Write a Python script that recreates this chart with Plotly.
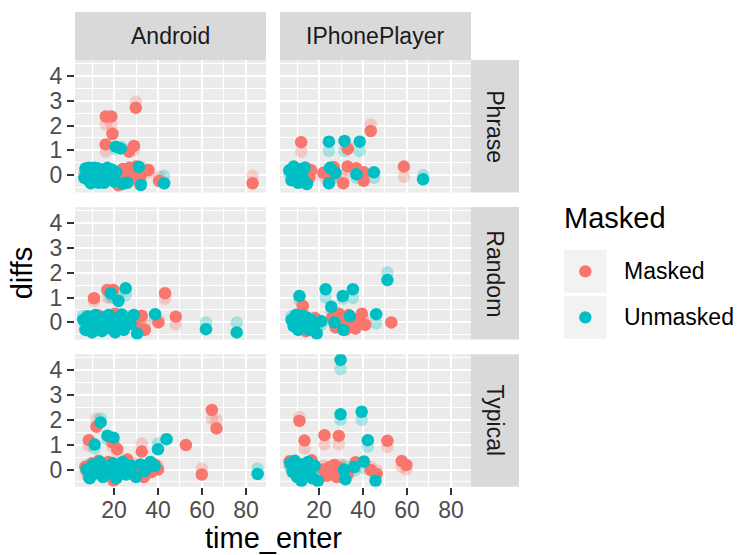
import plotly.graph_objects as go

# ---------------- data ----------------
devices = ["Android", "IPhonePlayer"]
tasks = ["Phrase", "Random", "Typical"]
groups = ["Masked", "Unmasked"]
group_colors = {"Masked": "#F8766D", "Unmasked": "#00BFC4"}
x_ticks = [20, 40, 60, 80]
y_ticks = [0, 1, 2, 3, 4]

# Android / Phrase
and_phr_m_x = [29.9, 16.3, 18.8, 19.3, 16.2, 29.1, 26.8, 35.7, 40.5, 83.0, 21, 23, 25, 27, 28, 30, 31, 33, 24, 22, 13, 11, 26, 29, 19, 32]
and_phr_m_y = [2.71, 2.36, 2.36, 1.66, 1.24, 1.18, 0.95, 0.21, -0.23, -0.32, -0.25, 0.12, -0.15, 0.3, 0.02, 0.35, -0.2, 0.15, 0.25, -0.4, -0.08, 0.06, -0.08, 0.2, 0.0, -0.02]
and_phr_m_j = [2.95, 2.04, 2.04, 1.70, 0.95, 1.0, 1.05, 0.12, -0.05, -0.02, -0.1, 0.2, 0.0, 0.15, -0.1, 0.25, -0.35, 0.3, 0.1, -0.25, 0.05, -0.1, 0.1, 0.05, 0.15, -0.15]
and_phr_u_x = [20.8, 23, 7, 8, 9, 10, 11, 12, 13, 14, 15, 16, 17, 18, 19, 20, 8.5, 12.5, 15.5, 10.5, 21, 24, 32.2, 31.3, 42.8, 26, 6.5, 9.5]
and_phr_u_y = [1.15, 1.08, 0.27, -0.17, 0.13, -0.25, 0.3, 0.04, -0.3, 0.23, 0.08, -0.2, 0.3, -0.06, 0.23, -0.25, 0.3, 0.28, -0.3, 0.04, 0.13, -0.34, -0.39, 0.34, -0.32, -0.3, -0.1, -0.32]
and_phr_u_j = [1.05, 1.15, 0.1, 0.0, 0.28, -0.1, 0.15, -0.1, -0.15, 0.05, 0.22, -0.05, 0.15, 0.1, 0.08, -0.1, 0.18, 0.12, -0.15, -0.1, 0.0, -0.2, -0.25, 0.2, -0.03, -0.15, 0.05, -0.2]

# IPhonePlayer / Phrase
iph_phr_m_x = [11.9, 33.1, 43.5, 58.6, 26.7, 31, 33, 37, 40.4, 40.3, 26.5, 14, 15.5, 16.5, 13.5, 22]
iph_phr_m_y = [1.33, 1.06, 1.78, 0.35, 0.33, -0.32, 0.35, 0.28, 0.12, -0.22, 0.04, 0.3, -0.1, 0.2, -0.3, 0.1]
iph_phr_m_j = [0.95, 1.15, 2.04, -0.06, 0.2, -0.15, 0.2, 0.15, 0.0, -0.05, -0.1, 0.15, 0.05, 0.05, -0.15, -0.05]
iph_phr_u_x = [24.5, 31.6, 38.5, 67.3, 24.5, 37, 45, 6.5, 7.5, 8.5, 9.5, 10.5, 11.5, 12.5, 13.5, 14.5, 9, 11, 25, 27.5]
iph_phr_u_y = [1.35, 1.38, 1.35, -0.16, -0.32, 0.04, 0.12, 0.2, -0.2, 0.35, 0.0, -0.3, 0.25, -0.1, 0.3, -0.35, 0.15, -0.15, 0.3, 0.1]
iph_phr_u_j = [0.98, 0.98, 0.98, 0.0, -0.15, -0.1, -0.1, 0.05, -0.05, 0.2, 0.15, -0.15, 0.1, 0.05, 0.15, -0.2, 0.3, 0.0, 0.15, -0.05]

# Android / Random
and_ran_m_x = [10.9, 17, 19.7, 43.2, 48.1, 40.2, 32.6, 20.5, 32.2, 25.3, 10, 11, 13, 20, 28, 30, 8, 15, 23, 34]
and_ran_m_y = [0.97, 1.3, 1.3, 1.17, 0.23, 0.0, 0.27, 0.35, -0.3, -0.07, 0.14, -0.1, 0.28, -0.15, 0.14, -0.15, -0.2, 0.05, 0.2, -0.3]
and_ran_m_j = [0.85, 1.0, 1.0, 0.95, -0.08, 0.1, 0.15, 0.2, -0.15, 0.05, 0.0, 0.05, 0.1, 0.0, 0.0, 0.0, -0.05, 0.2, 0.05, -0.1]
and_ran_u_x = [18.5, 25.3, 22, 38.7, 61.8, 75.8, 6, 7, 8, 9, 10, 11.5, 12.5, 13.5, 14.5, 15.5, 16.5, 17.5, 18.5, 19.5, 20.5, 21.5, 22.5, 23.5, 24.5, 26, 27.5, 29, 30.5, 17]
and_ran_u_y = [1.17, 1.37, 0.86, 0.33, -0.27, -0.4, 0.1, -0.3, 0.25, -0.1, -0.4, 0.3, -0.2, 0.05, -0.35, 0.2, -0.1, 0.3, -0.25, 0.1, -0.4, 0.15, -0.15, 0.32, -0.3, 0.1, -0.05, 0.3, -0.45, 0.0]
and_ran_u_j = [1.0, 1.09, 0.95, 0.15, 0.0, 0.0, 0.25, -0.15, 0.1, 0.05, -0.25, 0.15, -0.05, 0.2, -0.2, 0.05, 0.05, 0.15, -0.1, 0.25, -0.25, 0.0, 0.0, 0.17, -0.15, 0.25, 0.1, 0.15, -0.3, 0.15]

# IPhonePlayer / Random
iph_ran_m_x = [12.6, 52.9, 18.1, 26, 27.5, 29, 30.5, 32, 33.5, 35, 36.5, 38, 39.5, 41, 10, 14, 8.5]
iph_ran_m_y = [0.66, 0.0, 0.18, 0.2, -0.2, 0.35, -0.05, -0.3, 0.3, 0.05, -0.25, 0.15, 0.35, -0.1, -0.2, -0.35, 0.1]
iph_ran_m_j = [0.5, 0.0, 0.05, 0.05, -0.05, 0.2, 0.1, -0.15, 0.15, -0.1, -0.1, 0.0, 0.2, 0.05, -0.05, -0.2, -0.05]
iph_ran_u_x = [51.1, 11.1, 23, 30.8, 35.4, 25.6, 46, 7.5, 8.5, 9.5, 10.5, 11.5, 12.5, 13.5, 14.5, 15.5, 16.5, 17.5, 19, 21, 27, 31, 34]
iph_ran_u_y = [1.7, 1.06, 1.33, 1.06, 1.33, 0.63, 0.33, 0.1, -0.15, 0.3, -0.3, 0.05, 0.28, -0.1, 0.2, -0.3, 0.1, -0.2, -0.45, 0.05, 0.0, -0.3, 0.25]
iph_ran_u_j = [2.0, 0.9, 1.0, 0.95, 0.98, 0.5, -0.04, 0.25, 0.0, 0.15, -0.15, 0.2, 0.13, 0.05, 0.05, -0.15, -0.05, -0.05, -0.3, -0.1, 0.15, -0.15, 0.1]

# Android / Typical
and_typ_m_x = [64.5, 66.6, 12, 8.6, 19.3, 21.5, 32.6, 52.7, 59.9, 26.1, 33.6, 19.8, 40, 7, 8.5, 10, 11.5, 13, 14.5, 16, 17.5, 22, 24, 27.5, 29, 31, 35, 37, 38.5]
and_typ_m_y = [2.39, 1.65, 1.72, 1.18, 1.09, 0.82, 0.72, 0.98, -0.2, 0.4, -0.3, -0.44, 0.0, 0.1, -0.3, 0.25, -0.1, 0.35, 0.0, -0.25, 0.3, -0.05, 0.2, -0.15, 0.1, -0.25, 0.15, -0.1, 0.2]
and_typ_m_j = [2.03, 2.0, 2.04, 0.95, 0.9, 0.65, 1.04, 0.98, 0.04, 0.25, -0.15, -0.3, 0.15, -0.05, -0.15, 0.1, 0.05, 0.2, 0.15, -0.1, 0.15, 0.1, 0.05, 0.0, 0.25, -0.1, 0.0, 0.05, 0.05]
and_typ_u_x = [13.9, 11.2, 17, 19.8, 40, 43.9, 85.3, 38.5, 7.5, 9, 10.5, 12, 13.5, 15, 16.5, 18, 19.5, 21, 22.5, 24, 25.5, 28, 30, 32, 34, 36.5]
and_typ_u_y = [1.89, 1.0, 1.36, 1.28, 0.81, 1.22, -0.18, 0.14, 0.0, -0.35, 0.2, -0.15, 0.3, -0.3, 0.1, -0.1, 0.25, -0.35, 0.05, 0.3, -0.2, 0.15, -0.3, 0.2, -0.05, 0.3]
and_typ_u_j = [2.05, 0.85, 1.2, 1.1, 1.04, 1.22, 0.04, 0.0, 0.15, -0.2, 0.05, 0.0, 0.15, -0.15, 0.25, 0.05, 0.1, -0.2, 0.2, 0.15, -0.05, 0.0, -0.15, 0.05, 0.1, 0.15]

# IPhonePlayer / Typical
iph_typ_m_x = [11.1, 13.4, 22.5, 29, 51.1, 57.6, 59.7, 36.6, 43.5, 46.2, 27, 6.6, 11, 16.7, 22, 23.5, 25, 26.5, 28, 30, 33, 8.5, 14]
iph_typ_m_y = [1.95, 1.16, 1.38, 1.35, 1.15, 0.34, 0.18, 0.29, -0.02, -0.18, 0.18, 0.33, -0.34, 0.37, 0.0, -0.25, 0.1, -0.15, -0.3, 0.05, -0.2, 0.05, -0.2]
iph_typ_m_j = [2.1, 0.85, 1.0, 1.0, 0.9, 0.1, 0.0, 0.1, 0.1, -0.05, 0.03, 0.15, -0.2, 0.2, 0.15, -0.1, -0.05, 0.0, -0.15, 0.2, -0.05, -0.1, -0.05]
iph_typ_u_x = [29.8, 29.8, 39.4, 42.2, 40.4, 45.7, 32, 31.4, 7, 8, 9, 10, 11, 12, 13, 14, 15, 16, 17, 18, 19.5, 9.5, 36]
iph_typ_u_y = [4.4, 2.22, 2.32, 1.18, 0.32, -0.45, -0.39, -0.01, 0.25, -0.1, 0.35, -0.3, 0.1, -0.45, 0.2, -0.2, 0.3, 0.0, -0.35, 0.15, -0.45, 0.05, 0.1]
iph_typ_u_j = [4.03, 1.99, 1.99, 0.92, 0.05, -0.3, -0.25, 0.15, 0.1, 0.05, 0.2, -0.15, 0.25, -0.3, 0.05, -0.05, 0.15, 0.15, -0.2, 0.0, -0.3, -0.1, -0.05]

panel_data = {
    ("Android", "Phrase"): {"Masked": (and_phr_m_x, and_phr_m_y, and_phr_m_j), "Unmasked": (and_phr_u_x, and_phr_u_y, and_phr_u_j)},
    ("IPhonePlayer", "Phrase"): {"Masked": (iph_phr_m_x, iph_phr_m_y, iph_phr_m_j), "Unmasked": (iph_phr_u_x, iph_phr_u_y, iph_phr_u_j)},
    ("Android", "Random"): {"Masked": (and_ran_m_x, and_ran_m_y, and_ran_m_j), "Unmasked": (and_ran_u_x, and_ran_u_y, and_ran_u_j)},
    ("IPhonePlayer", "Random"): {"Masked": (iph_ran_m_x, iph_ran_m_y, iph_ran_m_j), "Unmasked": (iph_ran_u_x, iph_ran_u_y, iph_ran_u_j)},
    ("Android", "Typical"): {"Masked": (and_typ_m_x, and_typ_m_y, and_typ_m_j), "Unmasked": (and_typ_u_x, and_typ_u_y, and_typ_u_j)},
    ("IPhonePlayer", "Typical"): {"Masked": (iph_typ_m_x, iph_typ_m_y, iph_typ_m_j), "Unmasked": (iph_typ_u_x, iph_typ_u_y, iph_typ_u_j)},
}

# ---------------- layout geometry (pixels) ----------------
W, H = 737, 555
col_px = [(75, 266), (280, 471)]
row_px = [(60, 192.5), (207.1, 339.6), (354.2, 486.7)]
strip_top = (12, 60)
strip_right = (471, 519)
X_RANGE = [2.27, 89.1]
Y_RANGE = [-0.69, 4.63]
FONT = "Liberation Sans, Arial, Helvetica, sans-serif"


def px_x(p):
    return p / W


def px_y(p):
    return 1 - p / H


fig = go.Figure()
layout = {}

for r, task in enumerate(tasks):
    for c, dev in enumerate(devices):
        idx = r * 2 + c + 1
        xa = "x" if idx == 1 else f"x{idx}"
        ya = "y" if idx == 1 else f"y{idx}"
        xk = "xaxis" if idx == 1 else f"xaxis{idx}"
        yk = "yaxis" if idx == 1 else f"yaxis{idx}"
        bottom = r == len(tasks) - 1
        left = c == 0
        layout[xk] = dict(
            domain=[px_x(col_px[c][0]), px_x(col_px[c][1])],
            anchor=ya, range=X_RANGE, tickvals=x_ticks,
            showgrid=True, gridcolor="white", gridwidth=2, zeroline=False,
            minor=dict(dtick=10, tick0=0, showgrid=True, gridcolor="white", gridwidth=1),
            showticklabels=bottom, ticks="outside" if bottom else "",
            ticklen=7, tickwidth=2, tickcolor="#333333",
            ticklabelstandoff=-4,
            tickfont=dict(family=FONT, size=23, color="#4D4D4D"),
            showline=False, fixedrange=True,
        )
        layout[yk] = dict(
            domain=[px_y(row_px[r][1]), px_y(row_px[r][0])],
            anchor=xa, range=Y_RANGE, tickvals=y_ticks,
            showgrid=True, gridcolor="white", gridwidth=2, zeroline=False,
            minor=dict(dtick=0.5, tick0=0.5, showgrid=True, gridcolor="white", gridwidth=1),
            showticklabels=left, ticks="outside" if left else "",
            ticklen=7, tickwidth=2, tickcolor="#333333",
            tickfont=dict(family=FONT, size=23, color="#4D4D4D"),
            showline=False, fixedrange=True,
        )
        data = panel_data[(dev, task)]
        # faded (jittered) layer first
        for g in groups:
            xs, ys, js = data[g]
            fig.add_trace(go.Scatter(
                x=xs, y=js, mode="markers", xaxis=xa, yaxis=ya, showlegend=False,
                marker=dict(color=group_colors[g], size=12.5, opacity=0.3, line=dict(width=0)),
                hoverinfo="skip"))
        for g in groups:
            xs, ys, js = data[g]
            fig.add_trace(go.Scatter(
                x=xs, y=ys, mode="markers", xaxis=xa, yaxis=ya, showlegend=False, name=g,
                marker=dict(color=group_colors[g], size=12.5, opacity=1, line=dict(width=0))))

shapes = []
annotations = []
# top strips
for c, dev in enumerate(devices):
    shapes.append(dict(type="rect", xref="paper", yref="paper",
                       x0=px_x(col_px[c][0]), x1=px_x(col_px[c][1]),
                       y0=px_y(strip_top[1]), y1=px_y(strip_top[0]),
                       fillcolor="#D9D9D9", line=dict(width=0), layer="below"))
    annotations.append(dict(text=dev, xref="paper", yref="paper",
                            x=px_x((col_px[c][0] + col_px[c][1]) / 2),
                            y=px_y((strip_top[0] + strip_top[1]) / 2),
                            xanchor="center", yanchor="middle", showarrow=False,
                            font=dict(family=FONT, size=23, color="#1A1A1A")))
# right strips
for r, task in enumerate(tasks):
    shapes.append(dict(type="rect", xref="paper", yref="paper",
                       x0=px_x(strip_right[0]), x1=px_x(strip_right[1]),
                       y0=px_y(row_px[r][1]), y1=px_y(row_px[r][0]),
                       fillcolor="#D9D9D9", line=dict(width=0), layer="below"))
    annotations.append(dict(text=task, xref="paper", yref="paper",
                            x=px_x((strip_right[0] + strip_right[1]) / 2),
                            y=px_y((row_px[r][0] + row_px[r][1]) / 2),
                            xanchor="center", yanchor="middle", showarrow=False, textangle=90,
                            font=dict(family=FONT, size=23, color="#1A1A1A")))

# axis titles
annotations.append(dict(text="time_enter", xref="paper", yref="paper",
                        x=px_x((col_px[0][0] + col_px[1][1]) / 2), y=px_y(537.5),
                        xanchor="center", yanchor="middle", showarrow=False,
                        font=dict(family=FONT, size=29, color="black")))
annotations.append(dict(text="diffs", xref="paper", yref="paper",
                        x=px_x(22), y=px_y((row_px[0][0] + row_px[2][1]) / 2),
                        xanchor="center", yanchor="middle", showarrow=False, textangle=-90,
                        font=dict(family=FONT, size=29, color="black")))

# legend (drawn manually, ggplot style)
annotations.append(dict(text="Masked", xref="paper", yref="paper",
                        x=px_x(562), y=px_y(218), xanchor="left", yanchor="middle",
                        showarrow=False, font=dict(family=FONT, size=29, color="black")))
key_rows = [(250, 292.7), (296, 338.7)]
for (k0, k1), g in zip(key_rows, groups):
    shapes.append(dict(type="rect", xref="paper", yref="paper",
                       x0=px_x(564), x1=px_x(606.7), y0=px_y(k1), y1=px_y(k0),
                       fillcolor="#F2F2F2", line=dict(width=0)))
    cy = (k0 + k1) / 2
    shapes.append(dict(type="circle", xref="paper", yref="paper",
                       x0=px_x(585.3 - 6.2), x1=px_x(585.3 + 6.2),
                       y0=px_y(cy + 6.2), y1=px_y(cy - 6.2),
                       fillcolor=group_colors[g], line=dict(width=0)))
    annotations.append(dict(text=g, xref="paper", yref="paper",
                            x=px_x(622), y=px_y(cy), xanchor="left", yanchor="middle",
                            showarrow=False, font=dict(family=FONT, size=23, color="black")))

fig.update_layout(
    width=W, height=H, margin=dict(l=0, r=0, t=0, b=0),
    paper_bgcolor="white", plot_bgcolor="#EBEBEB",
    showlegend=False, shapes=shapes, annotations=annotations,
    font=dict(family=FONT),
    **layout,
)

fig.write_html(
    "out.html",
    config={"displayModeBar": False},
    post_script="document.body.style.margin='0';document.body.style.padding='0';document.body.style.overflow='hidden';",
)
